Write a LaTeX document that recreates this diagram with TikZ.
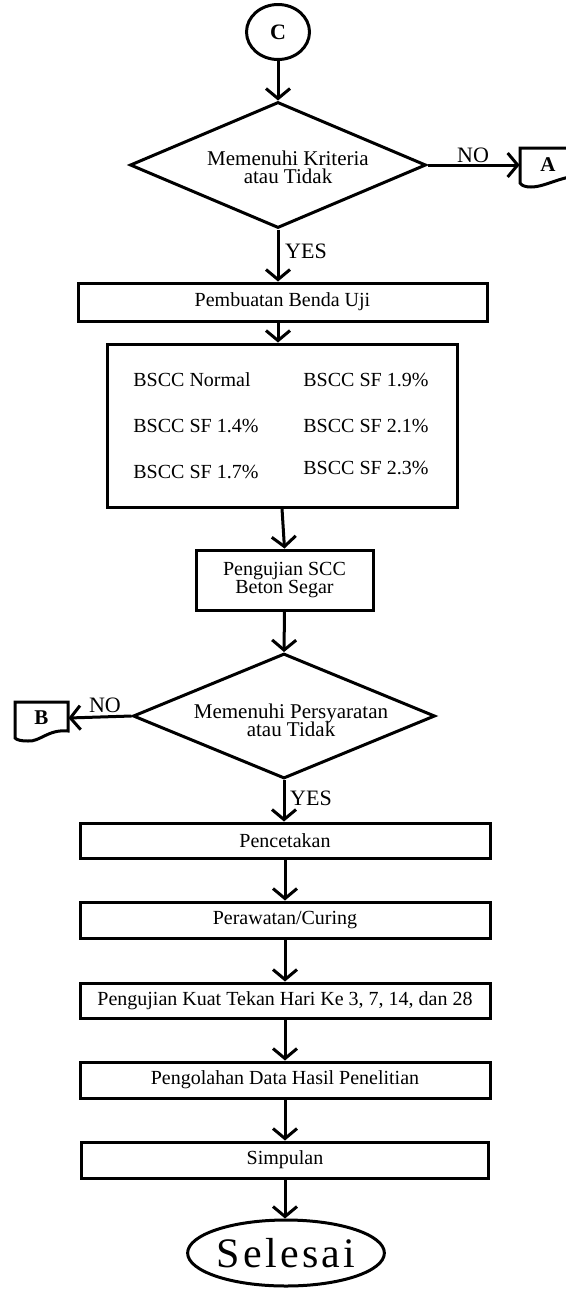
\documentclass[tikz,border=0pt]{standalone}
\usepackage{fontspec}
\setmainfont{Liberation Serif}
\usetikzlibrary{shapes.geometric,arrows.meta}
\tikzset{
  ln/.style={line width=1.5pt},
  arr/.style={ln,-{Straight Barb[length=5pt,width=12pt,line width=1.5pt]}},
  boxn/.style={draw,ln,rectangle,inner sep=0pt,font=\fontsize{10}{11}\selectfont,align=center},
  dia/.style={draw,ln,diamond,inner sep=0pt},
  dtext/.style={font=\fontsize{10.5}{11}\selectfont,align=center,inner sep=0pt},
  lbl/.style={font=\fontsize{11}{12}\selectfont,inner sep=0pt},
  bscc/.style={font=\fontsize{10}{11}\selectfont,anchor=west,inner sep=0pt},
  conn/.style={inner sep=0pt,font=\fontsize{10.5}{11}\selectfont\bfseries},
}
\begin{document}
\begin{tikzpicture}[x=0.5pt,y=-0.5pt,line join=miter]
\useasboundingbox (0,0) rectangle (566,1291);

% start connector
\node[draw,ln,ellipse,minimum width=31.5pt,minimum height=27.5pt,inner sep=0pt,font=\fontsize{11}{12}\selectfont\bfseries] (C) at (278,32) {C};

% decision 1
\node[dia,aspect=2.35,minimum width=148pt,minimum height=63pt] (d1) at (278,165) {};
\node[dtext] (t1) at (288,167) {Memenuhi Kriteria\\[-2pt]atau Tidak};

% off-page A
\node[conn,minimum width=28pt,minimum height=17pt] (A) at (548,165) {A};
\draw[ln] (520,148) -- (600,148) -- (600,175) .. controls (565,172) and (548,187) .. (531,187) .. controls (526,187) and (522,186) .. (520,183) -- cycle;

% boxes
\node[boxn,minimum width=204.5pt,minimum height=19pt] (b1) at (282.5,302) {Pembuatan Benda Uji};
\node[boxn,minimum width=175pt,minimum height=81.5pt] (big) at (282,425.5) {};
\node[bscc] (s1) at (133,380) {BSCC Normal};
\node[bscc] (s2) at (133,426) {BSCC SF 1.4\%};
\node[bscc] (s3) at (133,472) {BSCC SF 1.7\%};
\node[bscc] (s4) at (303,380) {BSCC SF 1.9\%};
\node[bscc] (s5) at (303,426) {BSCC SF 2.1\%};
\node[bscc] (s6) at (303,468) {BSCC SF 2.3\%};
\node[boxn,minimum width=88.5pt,minimum height=30pt] (b3) at (284.5,580) {Pengujian SCC\\[-2pt]Beton Segar};

% decision 2
\node[dia,aspect=2.42,minimum width=151pt,minimum height=62.5pt] (d2) at (284,716) {};
\node[dtext] (t2) at (291,720) {Memenuhi Persyaratan\\[-2pt]atau Tidak};

% off-page B
\node[conn,minimum width=26.5pt,minimum height=16pt] (B) at (41.5,718) {B};
\draw[ln] (15,702) -- (68,702) -- (68,731) .. controls (48,729) and (40,742) .. (28,741) .. controls (21,741) and (17,740) .. (15,738) -- cycle;

% lower boxes
\node[boxn,minimum width=205pt,minimum height=17.5pt] (b4) at (285,840.5) {Pencetakan};
\node[boxn,minimum width=205pt,minimum height=18pt] (b5) at (285,920) {Perawatan/Curing};
\node[boxn,minimum width=205pt,minimum height=17.5pt] (b6) at (285,1000.5) {Pengujian Kuat Tekan Hari Ke 3, 7, 14, dan 28};
\node[boxn,minimum width=205pt,minimum height=18pt] (b7) at (285,1080) {Pengolahan Data Hasil Penelitian};
\node[boxn,minimum width=203.5pt,minimum height=18pt] (b8) at (285,1160) {Simpulan};

% end
\node[draw,ln,ellipse,minimum width=92.5pt,minimum height=33pt,inner sep=0pt,font=\fontsize{21}{22}\selectfont\addfontfeature{LetterSpace=8}] (E) at (286,1253) {Selesai};

% connectors
\draw[arr] (C) -- (d1.north);
\draw[arr] (d1.east) -- (A.west);
\node[lbl] (no1) at (473,155) {NO};
\draw[arr] (d1.south) -- (d1.south |- b1.north);
\node[lbl] (yes1) at (306,251) {YES};
\draw[arr] (b1.south -| d1.south) -- (d1.south |- big.north);
\draw[arr] (big.south) -- (b3.north);
\draw[arr] (b3.south) -- (d2.north);
\draw[arr] (d2.west) -- (B.east);
\node[lbl] (no2) at (105,705) {NO};
\draw[arr] (d2.south) -- (d2.south |- b4.north);
\node[lbl] (yes2) at (311,798) {YES};
\draw[arr] (b4.south) -- (b5.north);
\draw[arr] (b5.south) -- (b6.north);
\draw[arr] (b6.south) -- (b7.north);
\draw[arr] (b7.south) -- (b8.north);
\draw[arr] (b8.south) -- (b8.south |- E.north);
\end{tikzpicture}
\end{document}
